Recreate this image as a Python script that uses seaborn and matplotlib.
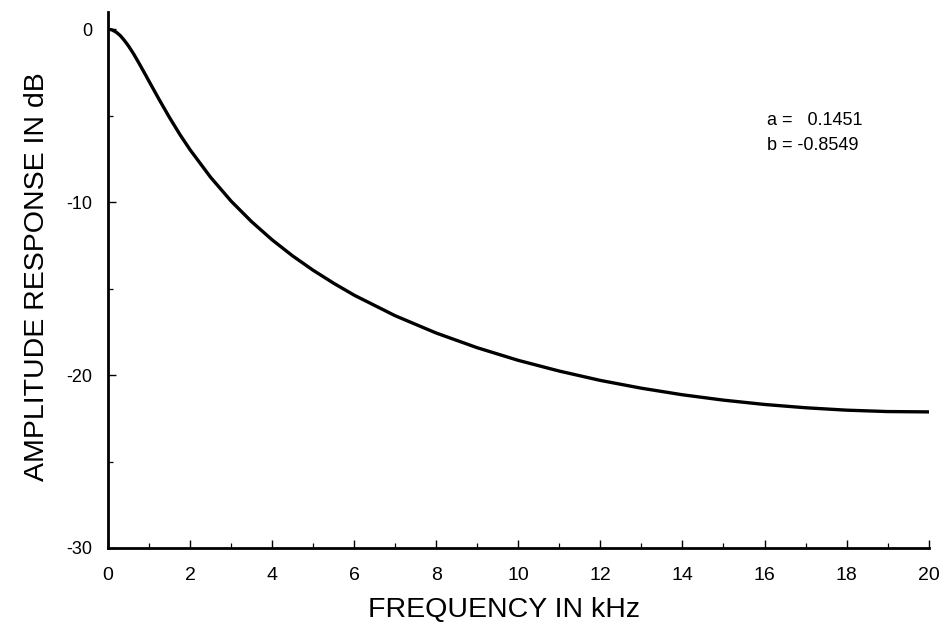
import matplotlib
matplotlib.use("Agg")
import matplotlib.pyplot as plt
import seaborn as sns
import pandas as pd
from matplotlib.ticker import MultipleLocator

# amplitude response (kHz, dB)
freq_khz = [0, 0.1, 0.2, 0.3, 0.4, 0.5, 0.625, 0.75, 0.875, 1, 1.25, 1.5,
            1.75, 2, 2.5, 3, 3.5, 4, 4.5, 5, 5.5, 6, 7, 8, 9, 10, 11, 12,
            13, 14, 15, 16, 17, 18, 19, 20]
resp_db = [0.0, -0.04, -0.17, -0.37, -0.65, -0.97, -1.43, -1.94, -2.47,
           -3.01, -4.08, -5.11, -6.08, -6.97, -8.56, -9.94, -11.13, -12.18,
           -13.11, -13.94, -14.69, -15.38, -16.57, -17.57, -18.42, -19.15,
           -19.77, -20.31, -20.76, -21.14, -21.45, -21.70, -21.89, -22.03,
           -22.11, -22.13]
coef_labels = ["a =   0.1451", "b = -0.8549"]

df = pd.DataFrame({"freq": freq_khz, "db": resp_db})

sns.set_style("white")
plt.rcParams["font.family"] = ["Liberation Sans", "DejaVu Sans"]
plt.rcParams["axes.unicode_minus"] = False
plt.rcParams["text.color"] = "black"
plt.rcParams["axes.labelcolor"] = "black"

fig = plt.figure(figsize=(9.39, 6.27), dpi=100)
ax = fig.add_axes([0.115, 0.126, 0.874, 0.855])

sns.lineplot(data=df, x="freq", y="db", color="black", linewidth=2.4, ax=ax)

ax.set_xlim(0, 20)
ax.set_ylim(-30, 1)
ax.xaxis.set_major_locator(MultipleLocator(2))
ax.xaxis.set_minor_locator(MultipleLocator(1))
ax.yaxis.set_major_locator(MultipleLocator(10))
ax.yaxis.set_minor_locator(MultipleLocator(5))
ax.tick_params(which="both", bottom=True, left=True, direction="in",
               colors="black", labelcolor="black")
ax.tick_params(which="major", length=6, width=1.0)
ax.tick_params(which="minor", length=3.5, width=0.9)
ax.tick_params(axis="x", labelsize=14, pad=14)
ax.tick_params(axis="y", labelsize=13, pad=11)

for side in ["top", "right"]:
    ax.spines[side].set_visible(False)
for side in ["left", "bottom"]:
    ax.spines[side].set_color("black")
    ax.spines[side].set_linewidth(2)

ax.set_xlabel("FREQUENCY IN kHz", fontsize=20.5)
ax.xaxis.set_label_coords(0.482, -0.0914)
ax.set_ylabel("AMPLITUDE RESPONSE IN dB", fontsize=20.5)
ax.yaxis.set_label_coords(-0.0706, 0.507)

ax.text(16.05, -5.3, coef_labels[0], fontsize=13, va="center", ha="left")
ax.text(16.05, -6.7, coef_labels[1], fontsize=13, va="center", ha="left")

fig.savefig("out.png", dpi=100)
